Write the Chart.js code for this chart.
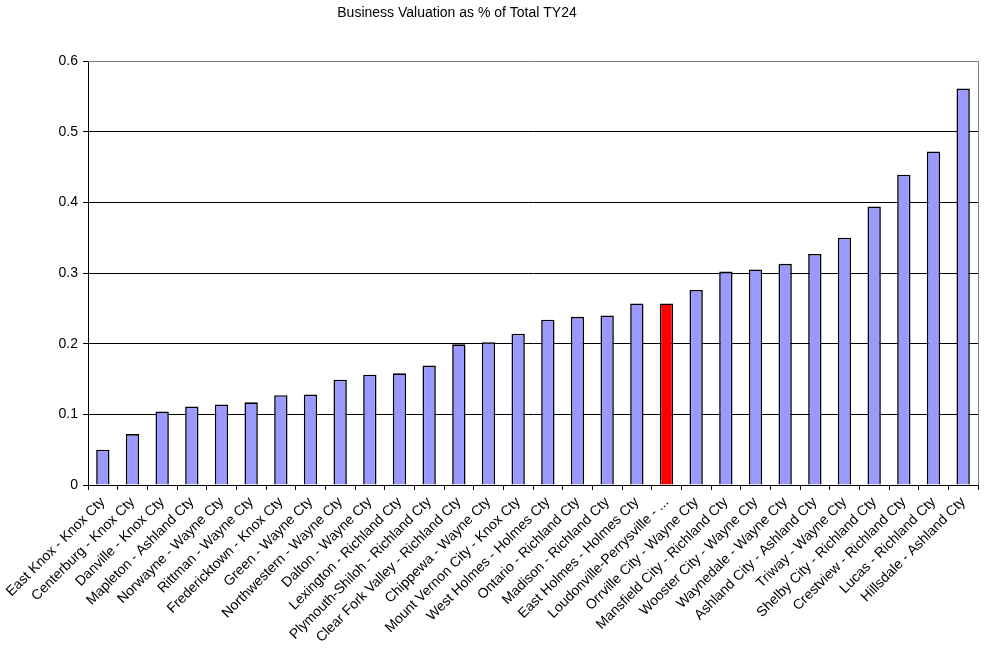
<!DOCTYPE html>
<html>
<head>
<meta charset="utf-8">
<script src="https://cdn.jsdelivr.net/npm/chart.js@4"></script>
<style>
    body { margin: 0; background: #ffffff; }
    #wrap { width: 989px; height: 650px; }
</style>
</head>
<body>
<div id="wrap"><canvas id="valChart" width="989" height="650"></canvas></div>
<script>
const districts = [
    "East Knox - Knox Cty", "Centerburg - Knox Cty", "Danville - Knox Cty",
    "Mapleton - Ashland Cty", "Norwayne - Wayne Cty", "Rittman - Wayne Cty",
    "Fredericktown - Knox Cty", "Green - Wayne Cty", "Northwestern - Wayne Cty",
    "Dalton - Wayne Cty", "Lexington - Richland Cty", "Plymouth-Shiloh - Richland Cty",
    "Clear Fork Valley - Richland Cty", "Chippewa - Wayne Cty", "Mount Vernon City - Knox Cty",
    "West Holmes - Holmes Cty", "Ontario - Richland Cty", "Madison - Richland Cty",
    "East Holmes - Holmes Cty", "Loudonville-Perrysville - ...", "Orrville City - Wayne Cty",
    "Mansfield City - Richland Cty", "Wooster City - Wayne Cty", "Waynedale - Wayne Cty",
    "Ashland City - Ashland Cty", "Triway - Wayne Cty", "Shelby City - Richland Cty",
    "Crestview - Richland Cty", "Lucas - Richland Cty", "Hillsdale - Ashland Cty"
];

const valuation = [
    0.050, 0.072, 0.104, 0.111, 0.114, 0.117, 0.127, 0.128, 0.149, 0.156,
    0.158, 0.169, 0.199, 0.202, 0.214, 0.234, 0.238, 0.240, 0.257, 0.257,
    0.276, 0.302, 0.305, 0.313, 0.327, 0.350, 0.394, 0.439, 0.472, 0.561
];

const highlight = "Loudonville-Perrysville - ...";
const yTicks = [0, 0.1, 0.2, 0.3, 0.4, 0.5, 0.6];

/* title + plot frame */
const framePlugin = {
    id: "frame",
    afterDraw(chart) {
        const c = chart.ctx;
        const a = chart.chartArea;
        c.save();
        c.strokeStyle = "#808080";
        c.lineWidth = 1;
        c.beginPath();
        c.moveTo(a.left, a.top + 0.5);
        c.lineTo(a.right + 0.5, a.top + 0.5);
        c.lineTo(a.right + 0.5, a.bottom);
        c.stroke();
        c.fillStyle = "#000000";
        c.font = "14px 'Liberation Sans', Arial, sans-serif";
        c.textAlign = "center";
        c.textBaseline = "middle";
        c.fillText("Business Valuation as % of Total TY24", 457, 13);
        c.restore();
    }
};

new Chart(document.getElementById("valChart"), {
    type: "bar",
    data: {
        labels: districts,
        datasets: [{
            label: "Business Valuation",
            data: valuation,
            backgroundColor: districts.map(d => d === highlight ? "#ff0000" : "#9999ff"),
            borderColor: "#000000",
            borderWidth: 1.6,
            barPercentage: 0.45,
            categoryPercentage: 1
        }]
    },
    plugins: [framePlugin],
    options: {
        responsive: false,
        animation: false,
        layout: { padding: { top: 61, right: 11, left: 0, bottom: 0 } },
        plugins: {
            legend: { display: false },
            tooltip: { enabled: false }
        },
        scales: {
            x: {
                afterFit(scale) { scale.height = 165; },
                grid: {
                    offset: true,
                    drawOnChartArea: false,
                    color: "#000000",
                    tickLength: 5
                },
                border: { color: "#000000" },
                ticks: {
                    color: "#000000",
                    minRotation: 45,
                    maxRotation: 45,
                    autoSkip: false,
                    padding: 4,
                    font: { family: "'Liberation Sans', Arial, sans-serif", size: 14 }
                }
            },
            y: {
                min: 0,
                max: 0.6,
                afterFit(scale) { scale.width = 88; },
                afterBuildTicks(scale) { scale.ticks = yTicks.map(v => ({ value: v })); },
                grid: {
                    color: ctx => (ctx.tick && ctx.tick.value === 0.6) ? "#808080" : "#000000",
                    tickLength: 5,
                    tickColor: "#000000"
                },
                border: { color: "#000000" },
                ticks: {
                    color: "#000000",
                    padding: 5,
                    callback: v => String(v),
                    font: { family: "'Liberation Sans', Arial, sans-serif", size: 14 }
                }
            }
        }
    }
});
</script>
</body>
</html>
